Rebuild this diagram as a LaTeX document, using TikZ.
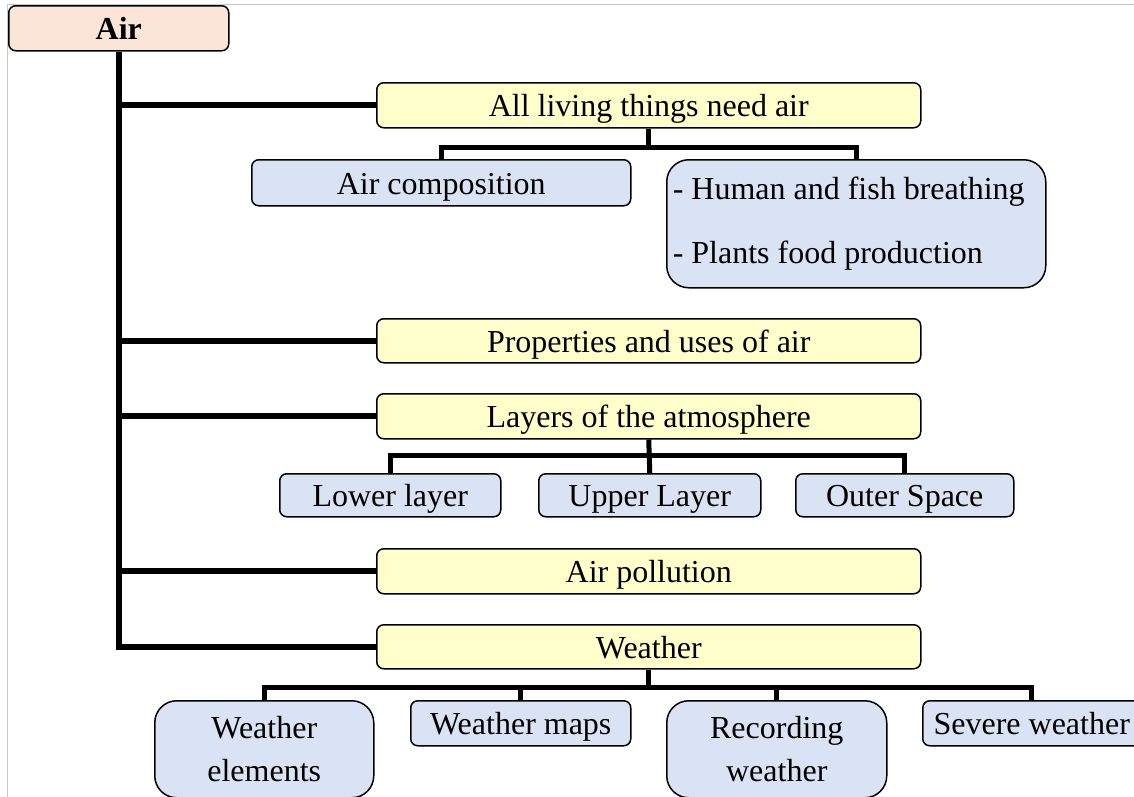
\documentclass[tikz,border=0pt]{standalone}
\usepackage{fontspec}
\setmainfont{Liberation Serif}
\usetikzlibrary{calc}
\definecolor{peach}{HTML}{FBE5D6}
\definecolor{pale}{HTML}{FFFFCC}
\definecolor{bluegray}{HTML}{DAE3F3}
\definecolor{framegray}{HTML}{C8C8C8}
\tikzset{
  box/.style={draw=black, line width=1.5pt, rounded corners=7pt, anchor=north west, inner sep=0pt, align=center, font=\fontsize{32}{43}\selectfont},
  oneline/.style={text height=27pt, text depth=4pt},
  rootbox/.style={box, oneline, fill=peach, font=\fontsize{32}{36}\selectfont\bfseries},
  topic/.style={box, oneline, fill=pale},
  sub/.style={box, oneline, fill=bluegray},
  bigsub/.style={box, fill=bluegray, rounded corners=22pt},
  trunk/.style={line width=6pt},
  bus/.style={line width=5pt}
}
\begin{document}
\begin{tikzpicture}[x=1pt,y=-1pt]
\useasboundingbox (0,0) rectangle (1134,796);
\clip (0,0) rectangle (1134,796);
\draw[framegray, line width=1pt] (7,800) -- (7,4.5) -- (1140,4.5);
% nodes
\node[rootbox, minimum width=220pt, minimum height=45pt] (air) at (8,5) {Air};
\node[topic, minimum width=544pt, minimum height=45pt] (living) at (376,82) {All living things need air};
\node[sub, minimum width=379pt, minimum height=46pt] (comp) at (251,159) {Air composition};
\node[bigsub, minimum width=379pt, minimum height=128pt, inner xsep=6pt, text width=367pt, align=flush left, font=\fontsize{32}{38}\selectfont] (human) at (666,159) {- Human and fish breathing\\[26pt]- Plants food production};
\node[topic, minimum width=544pt, minimum height=44pt] (props) at (376,318) {Properties and uses of air};
\node[topic, minimum width=544pt, minimum height=45pt] (layers) at (376,393) {Layers of the atmosphere};
\node[sub, minimum width=221pt, minimum height=43pt] (lower) at (279,473) {Lower layer};
\node[sub, minimum width=222pt, minimum height=43pt] (upper) at (538,473) {Upper Layer};
\node[sub, minimum width=218pt, minimum height=43pt] (outer) at (795,473) {Outer Space};
\node[topic, minimum width=544pt, minimum height=45pt] (pollution) at (376,548) {Air pollution};
\node[topic, minimum width=544pt, minimum height=44pt] (weather) at (376,624) {Weather};
\node[bigsub, minimum width=219pt, minimum height=97pt] (welem) at (154,700) {Weather\\elements};
\node[sub, minimum width=220pt, minimum height=45pt] (wmaps) at (410,700) {Weather maps};
\node[bigsub, minimum width=220pt, minimum height=97pt] (wrec) at (666,700) {Recording\\weather};
\node[sub, minimum width=218pt, minimum height=45pt] (wsev) at (922,700) {Severe weather};
% trunk
\draw[trunk] (air.south) |- (weather.west);
\foreach \n in {living, props, layers, pollution}
  \draw[trunk] (air.south |- \n.west) -- (\n.west);
% living bus
\draw[bus] (living.south) -- ++(0,20);
\draw[bus] (comp.north) -- ++(0,-12) -| (human.north);
% layers bus
\draw[bus] (layers.south) -- (upper.north);
\draw[bus] (lower.north) -- ++(0,-18) -| (outer.north);
% weather bus
\draw[bus] (weather.south) -- ++(0,19);
\draw[bus] (welem.north) -- ++(0,-13) -| (wsev.north);
\draw[bus] (wmaps.north) -- ++(0,-13);
\draw[bus] (wrec.north) -- ++(0,-13);
\end{tikzpicture}
\end{document}
